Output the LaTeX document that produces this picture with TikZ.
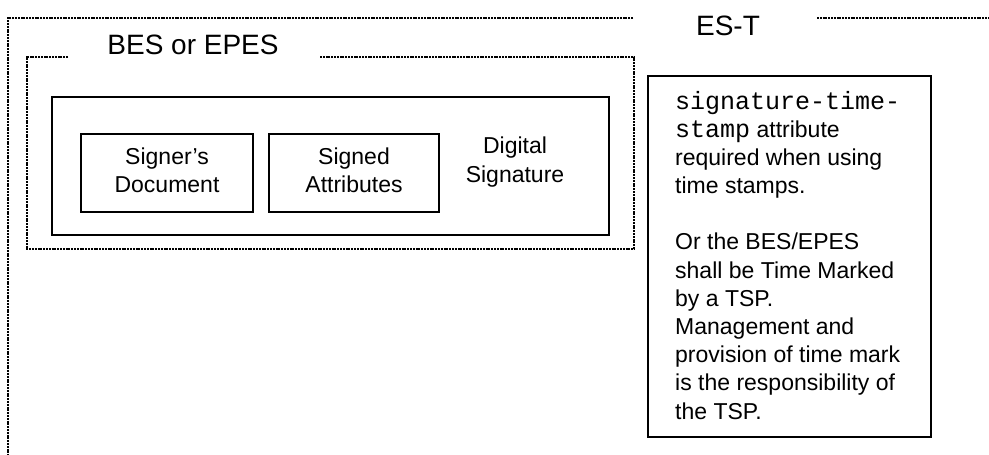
\documentclass[tikz,border=0pt]{standalone}
\usepackage{fontspec}
\setmainfont{Liberation Sans}
\setmonofont{Liberation Mono}
\newcommand{\lblfont}{\fontsize{23}{28.2}\selectfont}
\newcommand{\ttlfont}{\fontsize{28}{34}\selectfont}
\newcommand{\monotxt}[1]{{\fontsize{25}{28.2}\selectfont\ttfamily #1}}
\begin{document}
\begin{tikzpicture}[x=1pt,y=-1pt,
  dotframe/.style={line width=2pt, dash pattern=on 2pt off 0.8pt},
  solidbox/.style={draw, line width=1.5pt, inner sep=0pt},
  titletxt/.style={font=\ttlfont, anchor=base, inner sep=0pt},
  lbltxt/.style={font=\lblfont, inner sep=0pt}]
\useasboundingbox (0,0) rectangle (989,455);
% outer ES-T frame
\coordinate (oa) at (633,18);
\coordinate (ob) at (8,18);
\coordinate (oc) at (8,455);
\coordinate (od) at (817,18);
\coordinate (oe) at (989,18);
\draw[dotframe] (oa) -- (ob) -- (oc);
\draw[dotframe] (od) -- (oe);
\node[titletxt] (est) at (728,35) {ES-T};
% BES or EPES frame
\coordinate (ba) at (68,57);
\coordinate (bb) at (27,57);
\coordinate (bc) at (27,249);
\coordinate (bd) at (634,249);
\coordinate (be) at (634,57);
\coordinate (bf) at (320,57);
\draw[dotframe] (ba) -- (bb) -- (bc) -- (bd) -- (be) -- (bf);
\node[titletxt] (bes) at (193,54) {BES or EPES};
% digital signature box
\node[solidbox, minimum width=557, minimum height=138] (sig) at (330.5,166) {};
\node[solidbox, lbltxt, minimum width=172, minimum height=78] (doc) at (167,173)
  {\begin{tabular}{@{}c@{}}Signer's\\Document\end{tabular}};
\node[solidbox, lbltxt, minimum width=170, minimum height=78] (attr) at (354,173)
  {\begin{tabular}{@{}c@{}}Signed\\Attributes\end{tabular}};
\node[lbltxt] (dsig) at (515,162.4)
  {\begin{tabular}{@{}c@{}}Digital\\Signature\end{tabular}};
% time-stamp box
\node[solidbox, minimum width=283, minimum height=361] (tsbox) at (789.5,256.5) {};
\node[lbltxt, anchor=base west] (tstxt) at (675,109)
  {\begin{tabular}[t]{@{}l@{}}
  \monotxt{signature-time-}\\
  \monotxt{stamp} attribute\\
  required when using\\
  time stamps.\\
  \\
  Or the BES/EPES\\
  shall be Time Marked\\
  by a TSP.\\
  Management and\\
  provision of time mark\\
  is the responsibility of\\
  the TSP.
  \end{tabular}};
\end{tikzpicture}
\end{document}
